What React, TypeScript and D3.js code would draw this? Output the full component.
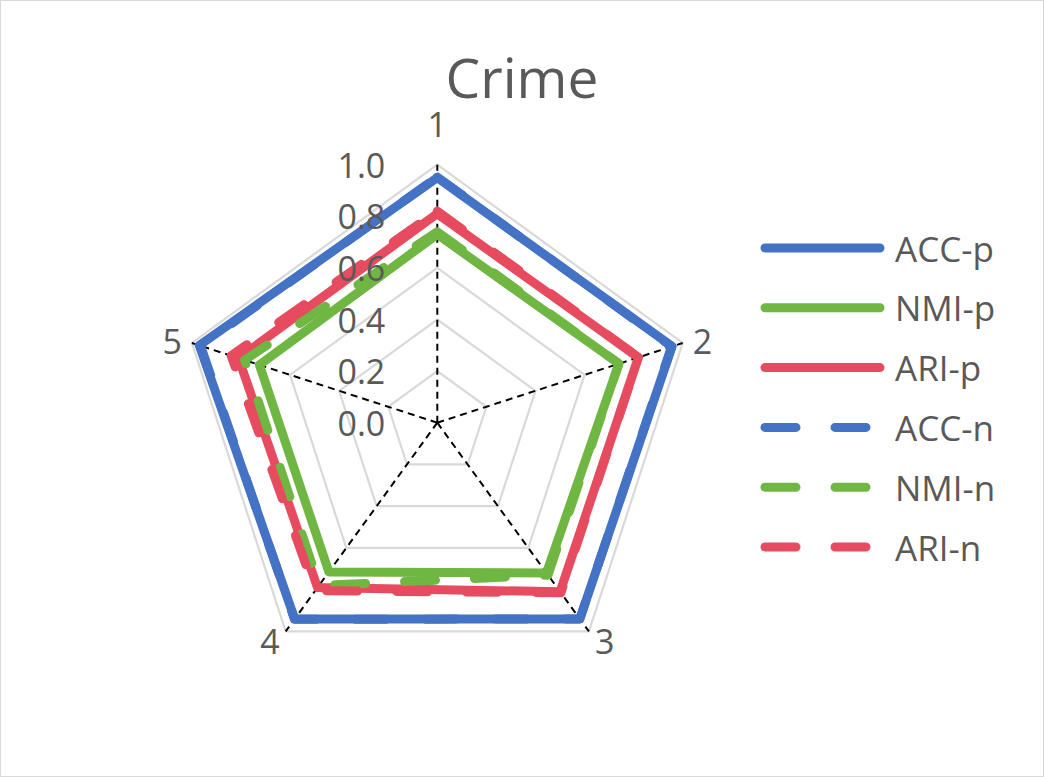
import React, { useEffect, useRef } from 'react';
import * as d3 from 'd3';

const axes = ['1', '2', '3', '4', '5'];
const ticks = [0, 0.2, 0.4, 0.6, 0.8, 1.0];

const seriesNames = ['ACC-p', 'NMI-p', 'ARI-p', 'ACC-n', 'NMI-n', 'ARI-n'];
const accP = [0.95, 0.957, 0.94, 0.94, 0.97];
const nmiP = [0.73, 0.74, 0.72, 0.715, 0.725];
const ariP = [0.81, 0.82, 0.81, 0.79, 0.81];
const accN = [0.952, 0.955, 0.94, 0.942, 0.965];
const nmiN = [0.74, 0.74, 0.73, 0.78, 0.785];
const ariN = [0.82, 0.82, 0.815, 0.805, 0.84];
const seriesValues = [accP, nmiP, ariP, accN, nmiN, ariN];
const seriesColors = ['#4472C4', '#70B643', '#E64B60', '#4472C4', '#70B643', '#E64B60'];
const seriesDashed = [false, false, false, true, true, true];

function RadarChart() {
  const ref = useRef<SVGSVGElement | null>(null);

  useEffect(() => {
    const width = 1044, height = 777;
    const cx = 437.3, cy = 422.7, R = 258;
    const font = '"Open Sans", "Noto Sans", sans-serif';
    const textColor = '#595959';

    const svg = d3.select(ref.current);
    svg.selectAll('*').remove();

    // frame
    svg.append('rect')
      .attr('x', 0.5).attr('y', 0.5)
      .attr('width', width - 1).attr('height', height - 1)
      .attr('fill', '#fff').attr('stroke', '#D9D9D9');

    const r = d3.scaleLinear().domain([0, 1]).range([0, R]);
    const angle = d3.scaleBand().domain(axes).range([0, 2 * Math.PI]).align(0).paddingInner(0).paddingOuter(0);
    const ang = (a) => (angle(a) as number) - Math.PI / 2;
    const pt = (a, v) => [cx + r(v) * Math.cos(ang(a)), cy + r(v) * Math.sin(ang(a))];

    const line = d3.line().curve(d3.curveLinearClosed);

    // grid rings
    svg.append('g').selectAll('path')
      .data(ticks.slice(1))
      .enter().append('path')
      .attr('d', (t) => line(axes.map((a) => pt(a, t)) as any))
      .attr('fill', 'none')
      .attr('stroke', '#D9D9D9')
      .attr('stroke-width', 2.2);

    // spokes
    svg.append('g').selectAll('line')
      .data(axes)
      .enter().append('line')
      .attr('x1', cx).attr('y1', cy)
      .attr('x2', (a) => pt(a, 1)[0])
      .attr('y2', (a) => pt(a, 1)[1])
      .attr('stroke', '#000')
      .attr('stroke-width', 2)
      .attr('stroke-dasharray', '7 5');

    // series
    svg.append('g').selectAll('path')
      .data(seriesValues)
      .enter().append('path')
      .attr('d', (vals) => line(axes.map((a, i) => pt(a, vals[i])) as any))
      .attr('fill', 'none')
      .attr('stroke', (d, i) => seriesColors[i])
      .attr('stroke-width', 9)
      .attr('stroke-linejoin', 'round')
      .attr('stroke-linecap', 'round')
      .attr('stroke-dasharray', (d, i) => (seriesDashed[i] ? '31 39' : null));

    // tick labels
    svg.append('g').selectAll('text')
      .data(ticks)
      .enter().append('text')
      .attr('x', cx - 52)
      .attr('y', (t) => cy - r(t))
      .attr('text-anchor', 'end')
      .attr('dominant-baseline', 'central')
      .attr('font-family', font)
      .attr('font-size', 34)
      .attr('fill', textColor)
      .text((t) => d3.format('.1f')(t));

    // axis labels
    svg.append('g').selectAll('text')
      .data(axes)
      .enter().append('text')
      .each(function (a) {
        const [x, y] = pt(a, 1);
        const c = Math.cos(ang(a)), s = Math.sin(ang(a));
        const el = d3.select(this);
        if (s < -0.9) {
          el.attr('x', x).attr('y', y - 28).attr('text-anchor', 'middle');
        } else if (s > 0.5) {
          el.attr('x', c > 0 ? x + 6 : x - 6).attr('y', y + 10)
            .attr('text-anchor', c > 0 ? 'start' : 'end').attr('dominant-baseline', 'central');
        } else {
          el.attr('x', c > 0 ? x + 10 : x - 10).attr('y', y - 2)
            .attr('text-anchor', c > 0 ? 'start' : 'end').attr('dominant-baseline', 'central');
        }
      })
      .attr('font-family', font)
      .attr('font-size', 34)
      .attr('fill', textColor)
      .text((a) => a);

    // title
    svg.append('text')
      .attr('x', 522).attr('y', 98)
      .attr('text-anchor', 'middle')
      .attr('font-family', font)
      .attr('font-size', 55)
      .attr('fill', textColor)
      .text('Crime');

    // legend
    const ly = d3.scalePoint().domain(seriesNames).range([248, 547]);
    const lg = svg.append('g').selectAll('g')
      .data(seriesNames)
      .enter().append('g')
      .attr('transform', (n) => 'translate(0,' + ly(n) + ')');
    lg.append('line')
      .attr('x1', 765).attr('x2', 880)
      .attr('y1', 0).attr('y2', 0)
      .attr('stroke', (d, i) => seriesColors[i])
      .attr('stroke-width', 9)
      .attr('stroke-linecap', 'round')
      .attr('stroke-dasharray', (d, i) => (seriesDashed[i] ? '31 39' : null));
    lg.append('text')
      .attr('x', 895).attr('y', 0)
      .attr('dominant-baseline', 'central')
      .attr('font-family', font)
      .attr('font-size', 35)
      .attr('fill', textColor)
      .text((n) => n);
  }, []);

  return (
    <svg ref={ref} width={1044} height={777}
      style={{ position: 'absolute', left: 0, top: 0, display: 'block' }} />
  );
}

export default function App() {
  return <RadarChart />;
}
